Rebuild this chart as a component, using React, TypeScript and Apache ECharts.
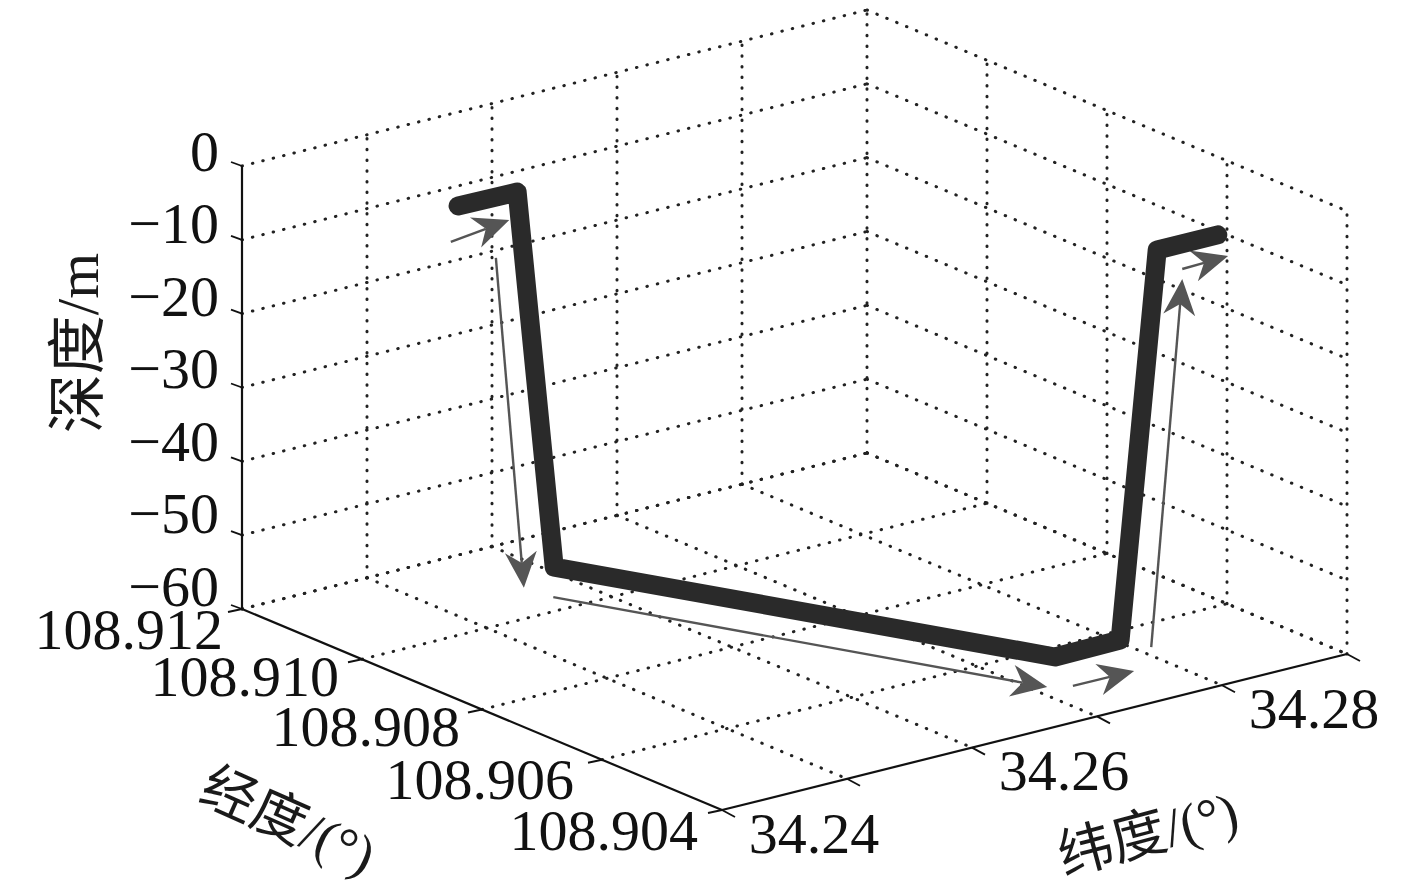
import React, { useEffect, useRef } from "react";
import * as echarts from "echarts";

// ---- data (3-D) ----
const lonTicks = [108.912, 108.91, 108.908, 108.906, 108.904];
const latTicks = [34.24, 34.25, 34.26, 34.27, 34.28, 34.29];
const depthTicks = [0, -10, -20, -30, -40, -50, -60];
const latLabelled = [34.24, 34.26, 34.28];

const lonLabels = ["108.912", "108.910", "108.908", "108.906", "108.904"];
const latLabels = ["34.24", "34.26", "34.28"];
const depthLabels = ["0", "\u221210", "\u221220", "\u221230", "\u221240", "\u221250", "\u221260"];

const pathLon = [108.91058, 108.91056, 108.90963, 108.90427, 108.90429, 108.90513, 108.90513];
const pathLat = [34.25047, 34.2551, 34.2536, 34.26794, 34.27324, 34.28024, 34.28509];
const pathDepth = [-5, -5, -52, -52, -52, -5, -5];

// direction arrows: start and tip
const arrowStartLon = [108.90973, 108.90905, 108.91036, 108.90491, 108.90539, 108.9045];
const arrowStartLat = [34.24581, 34.24615, 34.25703, 34.27244, 34.28101, 34.27922];
const arrowStartDepth = [-5, -5, -60, -60, -60, -5];
const arrowTipLon = [108.90991, 108.9093, 108.90504, 108.9049, 108.90425, 108.90454];
const arrowTipLat = [34.25135, 34.24959, 34.27101, 34.27729, 34.27802, 34.28308];
const arrowTipDepth = [-5, -52, -60, -60, -5, -5];

// ---- orthographic view of the MATLAB box ----
const view = { ox: 242, oy: 609, ux: 480, uy: 201, vx: 625, vy: -156, wy: 443 };
const lonMax = 108.912, lonMin = 108.904, latMin = 34.24, latMax = 34.29, depthMin = -60, depthMax = 0;

function project(lon: number, lat: number, depth: number): [number, number] {
  const u = (lonMax - lon) / (lonMax - lonMin);
  const v = (lat - latMin) / (latMax - latMin);
  const w = (depth - depthMin) / (depthMax - depthMin);
  return [view.ox + view.ux * u + view.vx * v, view.oy + view.uy * u + view.vy * v - view.wy * w];
}
const seg = (a: [number, number], b: [number, number]) => [a[0], a[1], b[0], b[1]];

const serif = '"Liberation Serif","Noto Sans CJK SC",serif';
const lonLabelDx = [-19, -23, -22, -28, -24];
const lonLabelDy = [20, 17, 17, 20, 20];

function buildOption() {
  const grid: number[][] = [];
  // wall lon = max (left back wall), wall lat = max (right back wall), floor
  for (const d of depthTicks) {
    grid.push(seg(project(lonMax, latMin, d), project(lonMax, latMax, d)));
    grid.push(seg(project(lonMax, latMax, d), project(lonMin, latMax, d)));
  }
  for (const la of latTicks) {
    if (la !== latMin) grid.push(seg(project(lonMax, la, depthMin), project(lonMax, la, depthMax)));
    if (la !== latMin) grid.push(seg(project(lonMax, la, depthMin), project(lonMin, la, depthMin)));
  }
  for (const lo of lonTicks) {
    if (lo !== lonMax) grid.push(seg(project(lo, latMax, depthMin), project(lo, latMax, depthMax)));
    if (lo !== lonMin) grid.push(seg(project(lo, latMin, depthMin), project(lo, latMax, depthMin)));
  }

  const axes: number[][] = [
    seg(project(lonMax, latMin, depthMin), project(lonMax, latMin, depthMax)),
    seg(project(lonMax, latMin, depthMin), project(lonMin, latMin, depthMin)),
    seg(project(lonMin, latMin, depthMin), project(lonMin, latMax, depthMin)),
  ];
  const ticks: number[][] = [];
  for (const d of depthTicks) {
    const p = project(lonMax, latMin, d);
    ticks.push([p[0], p[1], p[0] - 11, p[1] - 4]);
  }
  for (const lo of lonTicks) {
    const p = project(lo, latMin, depthMin);
    ticks.push([p[0], p[1], p[0] - 14, p[1] + 3]);
  }
  for (const la of latTicks) {
    const p = project(lonMin, la, depthMin);
    ticks.push([p[0], p[1], p[0] + 13, p[1] + 7]);
  }

  const labels: { p: [number, number]; text: string; align: string; dx: number; dy: number }[] = [];
  depthTicks.forEach((d, i) =>
    labels.push({ p: project(lonMax, latMin, d), text: depthLabels[i], align: "right", dx: -23, dy: -15 - (8 * i) / 6 }));
  lonTicks.forEach((lo, i) =>
    labels.push({ p: project(lo, latMin, depthMin), text: lonLabels[i], align: "right", dx: lonLabelDx[i], dy: lonLabelDy[i] }));
  latLabelled.forEach((la, i) =>
    labels.push({ p: project(lonMin, la, depthMin), text: latLabels[i], align: "center", dx: 92, dy: 23 }));

  const arrows = arrowTipLon.map((_, i) =>
    seg(project(arrowStartLon[i], arrowStartLat[i], arrowStartDepth[i]),
        project(arrowTipLon[i], arrowTipLat[i], arrowTipDepth[i])));

  const lineItem = (stroke: string, lineWidth: number, extra: any = {}) => (_p: any, api: any) => {
    const a = api.coord([api.value(0), api.value(1)]);
    const b = api.coord([api.value(2), api.value(3)]);
    return {
      type: "line",
      shape: { x1: a[0], y1: a[1], x2: b[0], y2: b[1] },
      style: { stroke, lineWidth, fill: null, ...extra },
    };
  };
  const enc = { x: [0, 2], y: [1, 3] };

  return {
    animation: false,
    backgroundColor: "#ffffff",
    grid: { left: 0, right: 0, top: 0, bottom: 0 },
    xAxis: { type: "value", min: 0, max: 1417, show: false },
    yAxis: { type: "value", min: 0, max: 891, inverse: true, show: false },
    tooltip: { show: false },
    graphic: [
      { type: "text", x: 78, y: 343, rotation: Math.PI / 2, silent: true,
        style: { text: "深度/m", font: `59px ${serif}`, fill: "#1a1a1a", align: "center", verticalAlign: "middle" } },
      { type: "text", x: 288, y: 821, rotation: -0.42, silent: true,
        style: { text: "经度/(°)", font: `55px ${serif}`, fill: "#1a1a1a", align: "center", verticalAlign: "middle" } },
      { type: "text", x: 1148, y: 834, rotation: 0.26, silent: true,
        style: { text: "纬度/(°)", font: `55px ${serif}`, fill: "#1a1a1a", align: "center", verticalAlign: "middle" } },
    ],
    series: [
      { type: "custom", name: "grid", coordinateSystem: "cartesian2d", silent: true, clip: false, encode: enc,
        data: grid, renderItem: lineItem("#222222", 3, { lineDash: [0.5, 10.2], lineCap: "round" }) },
      { type: "custom", name: "axes", coordinateSystem: "cartesian2d", silent: true, clip: false, encode: enc,
        data: axes, renderItem: lineItem("#111111", 2.2) },
      { type: "custom", name: "ticks", coordinateSystem: "cartesian2d", silent: true, clip: false, encode: enc,
        data: ticks, renderItem: lineItem("#111111", 1.8) },
      { type: "line", name: "path", coordinateSystem: "cartesian2d", silent: true, showSymbol: false, symbol: "none", clip: false,
        data: pathLon.map((lo, i) => project(lo, pathLat[i], pathDepth[i])),
        lineStyle: { color: "#2a2a2a", width: 19, cap: "round", join: "round" } },
      { type: "custom", name: "arrows", coordinateSystem: "cartesian2d", silent: true, clip: false, encode: enc,
        data: arrows,
        renderItem: (_p: any, api: any) => {
          const a = api.coord([api.value(0), api.value(1)]);
          const b = api.coord([api.value(2), api.value(3)]);
          const len = Math.hypot(b[0] - a[0], b[1] - a[1]);
          const ex = (b[0] - a[0]) / len, ey = (b[1] - a[1]) / len;
          const nx = -ey, ny = ex;
          const head = 36, half = 16, notch = 25;
          return {
            type: "group",
            children: [
              { type: "line",
                shape: { x1: a[0], y1: a[1], x2: b[0] - ex * notch, y2: b[1] - ey * notch },
                style: { stroke: "#555555", lineWidth: 2.4, fill: null } },
              { type: "polygon",
                shape: { points: [
                  [b[0], b[1]],
                  [b[0] - ex * head + nx * half, b[1] - ey * head + ny * half],
                  [b[0] - ex * notch, b[1] - ey * notch],
                  [b[0] - ex * head - nx * half, b[1] - ey * head - ny * half],
                ] },
                style: { fill: "#555555", stroke: null } },
            ],
          };
        } },
      { type: "custom", name: "labels", coordinateSystem: "cartesian2d", silent: true, clip: false,
        encode: { x: 0, y: 1 },
        data: labels.map((l) => [l.p[0], l.p[1]]),
        renderItem: (params: any, api: any) => {
          const l = labels[params.dataIndex];
          const c = api.coord([api.value(0), api.value(1)]);
          return {
            type: "text",
            x: c[0] + l.dx,
            y: c[1] + l.dy,
            style: { text: l.text, font: `58px ${serif}`, fill: "#111111", align: l.align, verticalAlign: "middle" },
          };
        } },
    ],
  };
}

export default function App() {
  const ref = useRef<HTMLDivElement>(null);
  useEffect(() => {
    const chart = echarts.init(ref.current!, undefined, { renderer: "svg" });
    chart.setOption(buildOption() as any);
    return () => chart.dispose();
  }, []);
  return <div ref={ref} style={{ position: "absolute", left: 0, top: 0, width: 1417, height: 891, background: "#fff" }} />;
}
